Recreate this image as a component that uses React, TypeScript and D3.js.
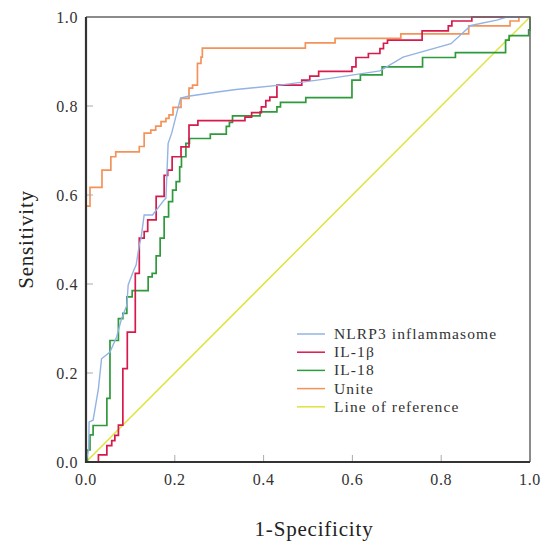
import React, { useRef, useEffect } from "react";
import * as d3 from "d3";

// ROC curves, [1-specificity, sensitivity]
const nlrp3: [number, number][] = [
  [0, 0], [0.006, 0.03], [0.007, 0.09], [0.016, 0.094], [0.028, 0.165], [0.035, 0.232],
  [0.054, 0.247], [0.069, 0.281], [0.08, 0.322], [0.092, 0.352], [0.095, 0.398],
  [0.106, 0.427], [0.113, 0.443], [0.12, 0.488], [0.124, 0.503], [0.131, 0.555],
  [0.15, 0.555], [0.176, 0.589], [0.18, 0.593], [0.185, 0.716], [0.193, 0.739],
  [0.213, 0.818], [0.23, 0.822], [0.3, 0.832], [0.338, 0.837], [0.437, 0.847],
  [0.55, 0.862], [0.662, 0.879], [0.714, 0.91], [0.822, 0.94], [0.867, 0.981],
  [0.925, 0.993], [0.948, 1.0], [1, 1],
];

const il1b: [number, number][] = [
  [0, 0], [0.028, 0.016], [0.047, 0.037], [0.058, 0.048], [0.065, 0.06], [0.073, 0.083],
  [0.083, 0.109], [0.083, 0.21], [0.093, 0.292], [0.111, 0.424], [0.12, 0.503],
  [0.131, 0.518], [0.139, 0.544], [0.158, 0.597], [0.176, 0.644], [0.184, 0.656],
  [0.194, 0.686], [0.214, 0.708], [0.232, 0.757], [0.252, 0.767], [0.358, 0.775],
  [0.373, 0.785], [0.395, 0.798], [0.405, 0.812], [0.414, 0.82], [0.43, 0.847],
  [0.486, 0.858], [0.504, 0.867], [0.524, 0.878], [0.599, 0.888], [0.608, 0.909],
  [0.636, 0.918], [0.662, 0.929], [0.67, 0.941], [0.679, 0.948], [0.757, 0.969],
  [0.816, 0.98], [0.824, 0.991], [0.869, 1.0], [1, 1.0],
];

const il18: [number, number][] = [
  [0, 0], [0.003, 0.027], [0.009, 0.061], [0.016, 0.082], [0.047, 0.143], [0.054, 0.273],
  [0.073, 0.322], [0.083, 0.334], [0.092, 0.371], [0.104, 0.385], [0.14, 0.416],
  [0.149, 0.424], [0.158, 0.463], [0.167, 0.503], [0.176, 0.551], [0.186, 0.585],
  [0.195, 0.611], [0.203, 0.63], [0.211, 0.663], [0.215, 0.686], [0.225, 0.716],
  [0.233, 0.727], [0.28, 0.737], [0.316, 0.754], [0.323, 0.763], [0.33, 0.778],
  [0.392, 0.787], [0.43, 0.798], [0.438, 0.808], [0.495, 0.819], [0.599, 0.858],
  [0.618, 0.87], [0.667, 0.888], [0.758, 0.909], [0.832, 0.92], [0.945, 0.948],
  [0.953, 0.958], [0.997, 0.971], [1, 1],
];

const unite: [number, number][] = [
  [0, 0.575], [0.009, 0.617], [0.036, 0.656], [0.056, 0.686], [0.067, 0.697],
  [0.12, 0.709], [0.131, 0.739], [0.146, 0.746], [0.157, 0.755], [0.169, 0.765],
  [0.18, 0.772], [0.187, 0.78], [0.196, 0.797], [0.214, 0.817], [0.232, 0.84],
  [0.24, 0.847], [0.251, 0.896], [0.259, 0.91], [0.262, 0.93], [0.494, 0.942],
  [0.561, 0.952], [0.709, 0.962], [0.862, 0.98], [0.955, 0.991], [0.975, 1.0], [1, 1],
];

const reference: [number, number][] = [[0, 0], [1, 1]];

const ticks = [0, 0.2, 0.4, 0.6, 0.8, 1.0];

const series = [
  { name: "NLRP3 inflammasome", data: nlrp3, color: "#93b3e3", step: false, width: 1.4 },
  { name: "IL-1β", data: il1b, color: "#d61a4c", step: true, width: 1.7 },
  { name: "IL-18", data: il18, color: "#2f9a3c", step: true, width: 1.7 },
  { name: "Unite", data: unite, color: "#f3935a", step: true, width: 1.7 },
  { name: "Line of reference", data: reference, color: "#dde43a", step: false, width: 1.5 },
];

const font = "'Liberation Serif', 'Times New Roman', serif";

function App() {
  const ref = useRef<HTMLDivElement>(null);

  function drawChart() {
    const [width, height] = [544, 544];
    const m = { left: 86, right: 14, top: 17, bottom: 82 };

    const x = d3.scaleLinear().domain([0, 1]).range([m.left, width - m.right]);
    const y = d3.scaleLinear().domain([0, 1]).range([height - m.bottom, m.top]);

    d3.select(ref.current).selectAll("*").remove();
    const svg = d3
      .select(ref.current)
      .append("svg")
      .attr("width", width)
      .attr("height", height)
      .attr("viewBox", [0, 0, width, height])
      .style("display", "block")
      .style("background", "#fff");

    // curves
    const gLines = svg.append("g").attr("fill", "none");
    series
      .slice()
      .reverse()
      .forEach((s) => {
        const line = d3
          .line<[number, number]>()
          .x((d) => x(d[0]))
          .y((d) => y(d[1]))
          .curve(s.step ? d3.curveStepAfter : d3.curveLinear);
        gLines
          .append("path")
          .attr("d", line(s.data))
          .attr("stroke", s.color)
          .attr("stroke-width", s.width);
      });

    // inner ticks
    svg
      .append("g")
      .attr("stroke", "#aaa")
      .attr("stroke-width", 1)
      .call((g) =>
        g
          .selectAll(".yt")
          .data(ticks.slice(1, -1))
          .join("line")
          .attr("x1", x(0))
          .attr("x2", x(0) + 7)
          .attr("y1", (d) => y(d))
          .attr("y2", (d) => y(d))
      )
      .call((g) =>
        g
          .selectAll(".xt")
          .data(ticks.slice(1, -1))
          .join("line")
          .attr("x1", (d) => x(d))
          .attr("x2", (d) => x(d))
          .attr("y1", y(0))
          .attr("y2", y(0) - 7)
      );

    // frame
    svg
      .append("path")
      .attr("d", `M${x(0)},${y(1)}H${x(1)}V${y(0)}`)
      .attr("fill", "none")
      .attr("stroke", "#666")
      .attr("stroke-width", 1.5);
    svg
      .append("path")
      .attr("d", `M${x(0)},${y(1)}V${y(0)}H${x(1)}`)
      .attr("fill", "none")
      .attr("stroke", "#333")
      .attr("stroke-width", 2.2);

    // tick labels
    const fmt = d3.format(".1f");
    svg
      .append("g")
      .attr("font-family", font)
      .attr("font-size", 16)
      .attr("fill", "#333")
      .attr("text-anchor", "end")
      .selectAll("text")
      .data(ticks)
      .join("text")
      .attr("x", x(0) - 8)
      .attr("y", (d) => y(d) + 5.5)
      .attr("letter-spacing", 0.6)
      .text((d) => fmt(d));
    svg
      .append("g")
      .attr("font-family", font)
      .attr("font-size", 16)
      .attr("fill", "#333")
      .attr("text-anchor", "middle")
      .selectAll("text")
      .data(ticks)
      .join("text")
      .attr("x", (d) => x(d))
      .attr("y", y(0) + 23)
      .attr("letter-spacing", 0.6)
      .text((d) => fmt(d));

    // axis titles
    svg
      .append("text")
      .attr("x", 314)
      .attr("y", 536)
      .attr("text-anchor", "middle")
      .attr("font-family", font)
      .attr("font-size", 21)
      .attr("letter-spacing", 0.8)
      .attr("fill", "#222")
      .text("1-Specificity");
    svg
      .append("text")
      .attr("transform", `translate(33,${(y(0) + y(1)) / 2}) rotate(-90)`)
      .attr("text-anchor", "middle")
      .attr("font-family", font)
      .attr("font-size", 21)
      .attr("letter-spacing", 0.8)
      .attr("fill", "#222")
      .text("Sensitivity");

    // legend
    const legend = svg
      .append("g")
      .attr("transform", "translate(297,334)")
      .selectAll("g")
      .data(series)
      .join("g")
      .attr("transform", (d, i) => `translate(0,${i * 18.2})`);
    legend
      .append("line")
      .attr("x1", 0)
      .attr("x2", 28)
      .attr("stroke", (d) => d.color)
      .attr("stroke-width", 1.5);
    legend
      .append("text")
      .attr("x", 37)
      .attr("y", 5)
      .attr("font-family", font)
      .attr("font-size", 15.5)
      .attr("letter-spacing", 1.1)
      .attr("fill", "#333")
      .text((d) => d.name);
  }

  useEffect(() => {
    document.body.style.margin = "0";
    drawChart();
  }, []);

  return <div ref={ref} />;
}

export default App;
